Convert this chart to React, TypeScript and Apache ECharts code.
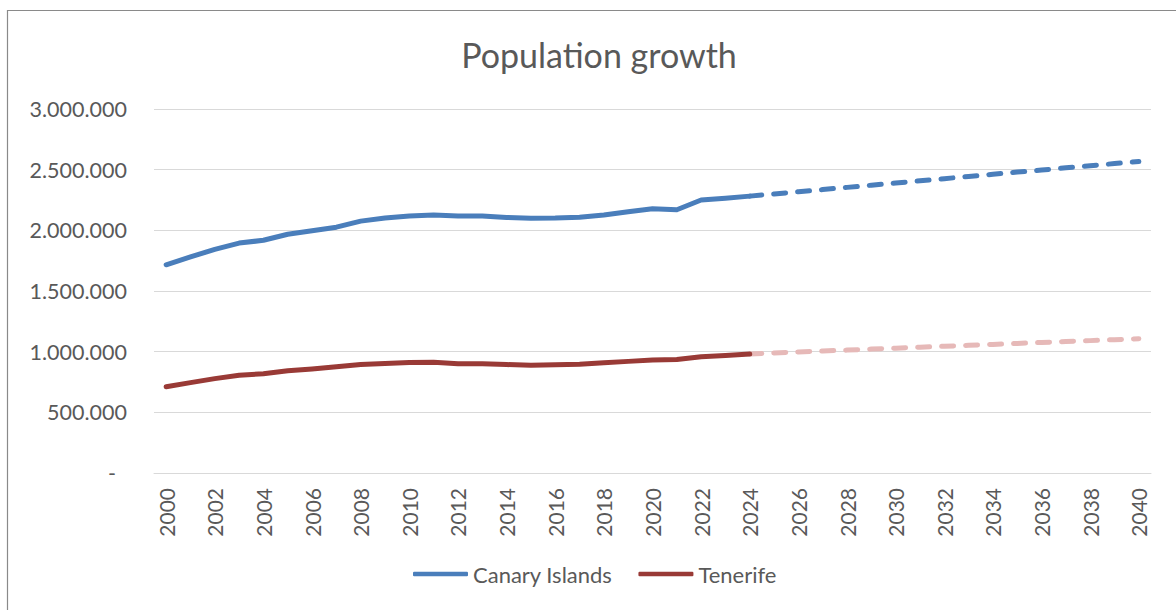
import React, { useEffect, useRef } from "react";
import * as echarts from "echarts";

// Years on the category axis
const years: string[] = [
  "2000", "2001", "2002", "2003", "2004", "2005", "2006", "2007", "2008", "2009",
  "2010", "2011", "2012", "2013", "2014", "2015", "2016", "2017", "2018", "2019",
  "2020", "2021", "2022", "2023", "2024", "2025", "2026", "2027", "2028", "2029",
  "2030", "2031", "2032", "2033", "2034", "2035", "2036", "2037", "2038", "2039",
  "2040",
];

// Recorded population, 2000–2024
const canaryIslands: number[] = [
  1716000, 1781000, 1843000, 1895000, 1918000, 1968000, 1996000, 2026000, 2076000, 2102000,
  2118000, 2126000, 2118000, 2118000, 2106000, 2100000, 2101000, 2108000, 2127000, 2154000,
  2178000, 2170000, 2250000, 2265000, 2282000,
];
const tenerife: number[] = [
  711000, 745000, 778000, 805000, 818000, 842000, 858000, 875000, 895000, 903000,
  911000, 912000, 901000, 900000, 894000, 888000, 893000, 897000, 908000, 920000,
  932000, 935000, 958000, 968000, 980000,
];

// Projected population, 2024–2040
const projectionStart = "2024";
const canaryIslandsProjection: number[] = [
  2282000, 2300000, 2318000, 2336000, 2354000, 2372000, 2390000, 2408000, 2426000,
  2444000, 2462000, 2480000, 2497000, 2515000, 2533000, 2550000, 2567000,
];
const tenerifeProjection: number[] = [
  980000, 990000, 998000, 1005000, 1013000, 1021000, 1029000, 1037000, 1045000,
  1052000, 1060000, 1068000, 1076000, 1084000, 1091000, 1099000, 1107000,
];

const yTicks = { min: 0, max: 3000000, interval: 500000 };

const FONT = "Lato, 'Open Sans', sans-serif";
const TEXT = "#595959";
const BLUE = "#4A7EBB";
const RED = "#993A36";
const PINK = "#E6B9B8";

function padEnd(values: number[]): (number | null)[] {
  return years.map((_, i) => (i < values.length ? values[i] : null));
}
function padStart(values: number[], from: string): (number | null)[] {
  const start = years.indexOf(from);
  return years.map((_, i) => (i >= start && i - start < values.length ? values[i - start] : null));
}

function formatThousands(v: number): string {
  return Math.round(v).toString().replace(/\B(?=(\d{3})+(?!\d))/g, ".");
}

export default function App() {
  const ref = useRef<HTMLDivElement>(null);

  useEffect(() => {
    if (!ref.current) return;
    const chart = echarts.init(ref.current, null, { renderer: "svg" });

    const solid = (name: string, data: (number | null)[], color: string) => ({
      name,
      type: "line",
      data,
      showSymbol: false,
      symbol: "none",
      connectNulls: false,
      itemStyle: { color },
      lineStyle: { color, width: 5, cap: "round", join: "round" },
      z: 3,
    });
    const dashed = (name: string, data: (number | null)[], color: string) => ({
      name,
      type: "line",
      data,
      showSymbol: false,
      symbol: "none",
      itemStyle: { color },
      lineStyle: { color, width: 5, type: [12, 12], cap: "round", join: "round" },
      z: 2,
    });

    chart.setOption({
      animation: false,
      backgroundColor: "#ffffff",
      textStyle: { fontFamily: FONT },
      title: {
        text: "Population growth",
        left: 594,
        top: 32,
        textAlign: "center",
        textStyle: { fontFamily: FONT, fontSize: 34, fontWeight: "normal", color: TEXT },
      },
      graphic: [
        {
          type: "rect",
          shape: { x: 7.5, y: 10.5, width: 1200, height: 700 },
          style: { fill: "none", stroke: "#8a8a8a", lineWidth: 1.2 },
          silent: true,
        },
      ],
      legend: {
        data: ["Canary Islands", "Tenerife"],
        bottom: 20,
        left: 408,
        icon: "roundRect",
        itemWidth: 55,
        itemHeight: 4.5,
        itemGap: 26,
        textStyle: { fontFamily: FONT, fontSize: 22, color: TEXT },
      },
      grid: { left: 154, right: 25, top: 109, bottom: 137, containLabel: false },
      xAxis: {
        type: "category",
        data: years,
        boundaryGap: true,
        axisLine: { lineStyle: { color: "#d9d9d9", width: 1 } },
        axisTick: { show: false },
        axisLabel: {
          rotate: 90,
          interval: 1,
          margin: 15,
          fontFamily: FONT,
          fontSize: 21,
          color: TEXT,
        },
      },
      yAxis: {
        type: "value",
        min: yTicks.min,
        max: yTicks.max,
        interval: yTicks.interval,
        axisLine: { show: false },
        axisTick: { show: false },
        splitLine: { lineStyle: { color: "#d9d9d9", width: 1 } },
        axisLabel: {
          margin: 27,
          fontFamily: FONT,
          fontSize: 21.5,
          color: TEXT,
          formatter: (v: number) => (v === 0 ? "{z|-}" : formatThousands(v)),
          rich: { z: { padding: [0, 11, 0, 0], fontFamily: FONT, fontSize: 21.5, color: TEXT } },
        },
      },
      series: [
        dashed("Canary Islands projection", padStart(canaryIslandsProjection, projectionStart), BLUE),
        dashed("Tenerife projection", padStart(tenerifeProjection, projectionStart), PINK),
        solid("Canary Islands", padEnd(canaryIslands), BLUE),
        solid("Tenerife", padEnd(tenerife), RED),
      ],
    });

    return () => chart.dispose();
  }, []);

  return (
    <div
      ref={ref}
      style={{ position: "absolute", left: 0, top: 0, width: 1176, height: 610 }}
    />
  );
}
